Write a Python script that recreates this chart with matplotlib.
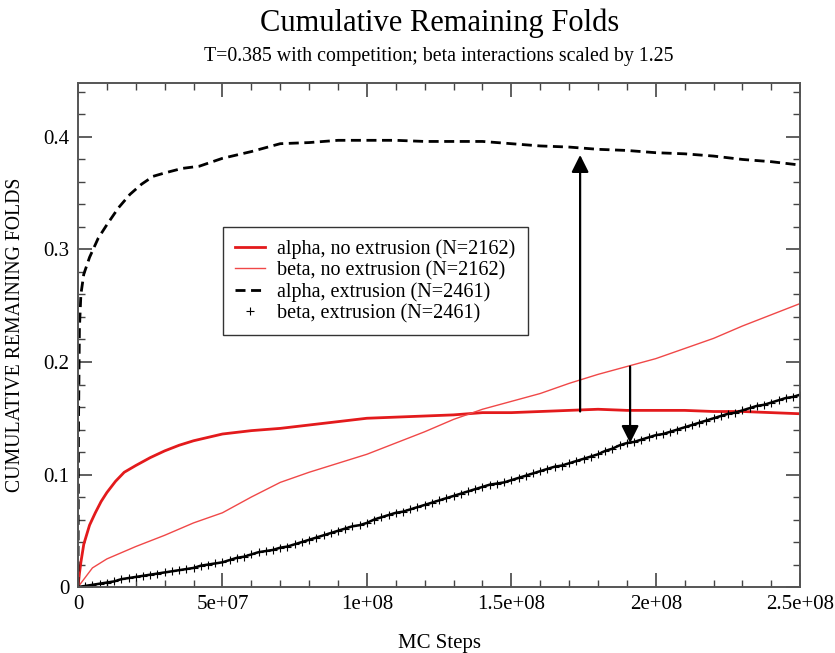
import matplotlib
matplotlib.use("Agg")
import matplotlib.pyplot as plt
from matplotlib.ticker import FixedLocator, MultipleLocator

plt.rcParams['font.family'] = ['Liberation Serif', 'DejaVu Serif']

# ---- data ----
alpha_ext_x = [0, 2e5, 5e5, 1e6, 2e6, 4e6, 7e6, 1e7, 1.4e7, 1.8e7, 2.2e7, 2.6e7, 3e7, 3.6e7, 4.2e7,
               5e7, 6e7, 7e7, 8e7, 9e7, 1e8, 1.1e8, 1.2e8, 1.3e8, 1.4e8, 1.5e8, 1.6e8, 1.7e8, 1.8e8,
               1.9e8, 2e8, 2.1e8, 2.2e8, 2.3e8, 2.4e8, 2.5e8]
alpha_ext_y = [0, 0.15, 0.23, 0.26, 0.278, 0.293, 0.31, 0.322, 0.337, 0.349, 0.358, 0.365, 0.368,
               0.372, 0.374, 0.381, 0.387, 0.394, 0.395, 0.397, 0.397, 0.397, 0.396, 0.396, 0.396,
               0.394, 0.392, 0.391, 0.389, 0.388, 0.386, 0.385, 0.383, 0.380, 0.378, 0.375]

alpha_noext_x = [0, 5e5, 1e6, 2e6, 4e6, 6e6, 8e6, 1e7, 1.3e7, 1.6e7, 2e7, 2.5e7, 3e7, 3.5e7, 4e7,
                 4.5e7, 5e7, 6e7, 7e7, 8e7, 9e7, 1e8, 1.1e8, 1.2e8, 1.3e8, 1.4e8, 1.5e8, 1.6e8,
                 1.7e8, 1.8e8, 1.9e8, 2e8, 2.1e8, 2.2e8, 2.3e8, 2.4e8, 2.5e8]
alpha_noext_y = [0, 0.012, 0.022, 0.038, 0.055, 0.066, 0.076, 0.084, 0.094, 0.102, 0.108, 0.115,
                 0.121, 0.126, 0.130, 0.133, 0.136, 0.139, 0.141, 0.144, 0.147, 0.150, 0.151,
                 0.152, 0.153, 0.155, 0.155, 0.156, 0.157, 0.158, 0.157, 0.157, 0.157, 0.156,
                 0.156, 0.155, 0.154]

beta_noext_x = [0, 5e6, 1e7, 2e7, 3e7, 4e7, 5e7, 6e7, 7e7, 8e7, 9e7, 1e8, 1.1e8, 1.2e8, 1.3e8,
                1.4e8, 1.5e8, 1.6e8, 1.7e8, 1.8e8, 1.9e8, 2e8, 2.1e8, 2.2e8, 2.3e8, 2.4e8, 2.5e8]
beta_noext_y = [0, 0.017, 0.025, 0.036, 0.046, 0.057, 0.066, 0.080, 0.093, 0.102, 0.110, 0.118,
                0.128, 0.138, 0.149, 0.158, 0.165, 0.172, 0.181, 0.189, 0.196, 0.203, 0.212,
                0.221, 0.232, 0.242, 0.252]

beta_ext_x = [i * 2.5e6 for i in range(101)]
beta_ext_y = [0, 0.001, 0.002, 0.003, 0.004, 0.005, 0.007, 0.008, 0.009, 0.010,
              0.011, 0.012, 0.013, 0.014, 0.015, 0.016, 0.017, 0.019, 0.020, 0.021,
              0.022, 0.024, 0.026, 0.027, 0.029, 0.031, 0.032, 0.033, 0.035, 0.036,
              0.038, 0.040, 0.042, 0.044, 0.046, 0.048, 0.050, 0.052, 0.054, 0.055,
              0.057, 0.060, 0.062, 0.064, 0.066, 0.067, 0.069, 0.071, 0.073, 0.075,
              0.077, 0.079, 0.081, 0.083, 0.085, 0.087, 0.089, 0.091, 0.092, 0.093,
              0.095, 0.097, 0.099, 0.101, 0.103, 0.105, 0.107, 0.108, 0.110, 0.112,
              0.114, 0.116, 0.118, 0.121, 0.123, 0.126, 0.128, 0.129, 0.131, 0.133,
              0.135, 0.136, 0.138, 0.140, 0.142, 0.144, 0.146, 0.148, 0.150, 0.152,
              0.154, 0.155, 0.157, 0.159, 0.161, 0.162, 0.164, 0.166, 0.168, 0.169,
              0.171]

labels = ["alpha, no extrusion (N=2162)", "beta, no extrusion (N=2162)",
          "alpha, extrusion (N=2461)", "beta, extrusion (N=2461)"]

x_ticks = [0, 5e7, 1e8, 1.5e8, 2e8, 2.5e8]
x_ticklabels = ["0", "5e+07", "1e+08", "1.5e+08", "2e+08", "2.5e+08"]
y_ticks = [0, 0.1, 0.2, 0.3, 0.4]
y_ticklabels = ["0", "0.1", "0.2", "0.3", "0.4"]

# ---- figure ----
fig = plt.figure(figsize=(8.35, 6.53), dpi=100)
ax = fig.add_axes([0.0934, 0.101, 0.865, 0.772])

ax.plot(alpha_noext_x, alpha_noext_y, color='#e31a1c', lw=2.0, label=labels[0])
ax.plot(beta_noext_x, beta_noext_y, color='#f04848', lw=1.0, label=labels[1])
ax.plot(alpha_ext_x, alpha_ext_y, color='black', lw=2.0, dashes=(3.6, 2.0), label=labels[2])
ax.plot(beta_ext_x, beta_ext_y, color='black', lw=1.8, linestyle='-')
ax.plot(beta_ext_x, beta_ext_y, color='black', linestyle='none', marker='+', ms=6, mew=0.8,
        label=labels[3])

# arrows
ax.annotate("", xy=(1.738e8, 0.384), xytext=(1.738e8, 0.156),
            arrowprops=dict(arrowstyle='-|>', color='black', lw=1.6, mutation_scale=26,
                            shrinkA=0, shrinkB=0))
ax.annotate("", xy=(1.911e8, 0.128), xytext=(1.911e8, 0.196),
            arrowprops=dict(arrowstyle='-|>', color='black', lw=1.6, mutation_scale=26,
                            shrinkA=0, shrinkB=0))

ax.set_xlim(0, 2.5e8)
ax.set_ylim(0, 0.448)
ax.xaxis.set_major_locator(FixedLocator(x_ticks))
ax.set_xticklabels(x_ticklabels)
ax.xaxis.set_minor_locator(MultipleLocator(1e7))
ax.yaxis.set_major_locator(FixedLocator(y_ticks))
ax.set_yticklabels(y_ticklabels)
ax.yaxis.set_minor_locator(MultipleLocator(0.02))
ax.tick_params(which='both', direction='in', top=True, right=True, labelsize=15,
               color='#444444')
ax.tick_params(which='major', length=10, width=1.2, pad=6)
ax.tick_params(which='minor', length=5, width=1.0)
for s in ax.spines.values():
    s.set_color('#555555')
    s.set_linewidth(1.4)

ax.set_xlabel("MC Steps", fontsize=15)
ax.xaxis.set_label_coords(0.5, -0.093)
ax.set_ylabel("CUMULATIVE REMAINING FOLDS", fontsize=14.2)
ax.yaxis.set_label_coords(-0.074, 0.5)

xc = 0.0934 + 0.865 / 2
fig.text(xc, 0.965, "Cumulative Remaining Folds", ha='center', va='center', fontsize=22)
fig.text(xc, 0.914, "T=0.385 with competition; beta interactions scaled by 1.25",
         ha='center', va='center', fontsize=14.3)

leg = ax.legend(loc='upper left', bbox_to_anchor=(223 / 835, 1 - 227 / 653),
                bbox_transform=fig.transFigure, fontsize=14.5, frameon=True, fancybox=False,
                edgecolor='black', handlelength=1.5, borderpad=0.6, labelspacing=0.1,
                handletextpad=0.6, borderaxespad=0)
leg.get_frame().set_linewidth(1.0)

fig.savefig("out.png", dpi=100)
